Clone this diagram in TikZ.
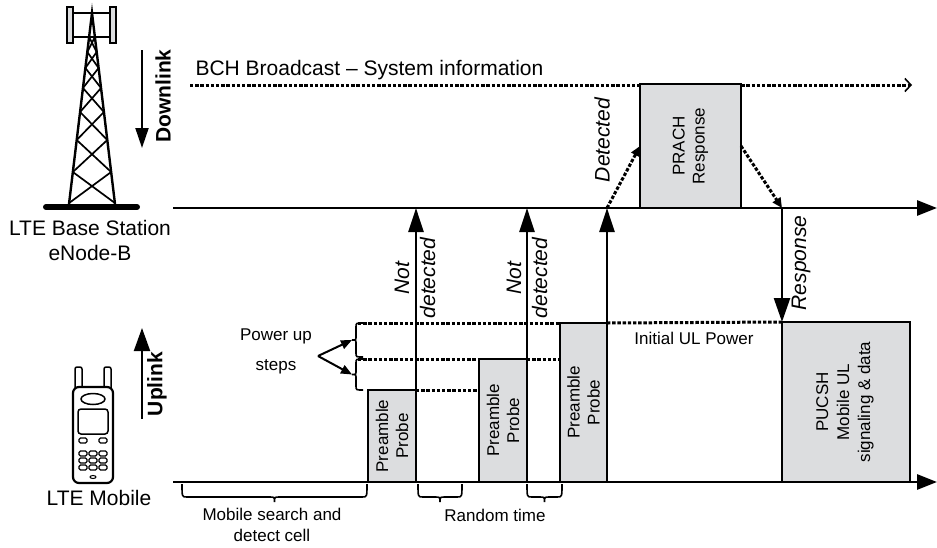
\documentclass[tikz,border=0pt]{standalone}
\usepackage{fontspec}
\setmainfont{Liberation Sans}
\usetikzlibrary{arrows.meta}
\definecolor{boxgray}{RGB}{220,221,223}

% downward curly brace under a time axis: \hbrace{x-left}{x-right}{y}
\newcommand\hbrace[3]{%
  \draw[bracestyle] (#1,#3) .. controls (#1,{#3+13}) .. ({#1+5},{#3+13})
    -- ({(#1+#2)/2-5},{#3+13}) .. controls ({(#1+#2)/2},{#3+13}) .. ({(#1+#2)/2},{#3+18})
    .. controls ({(#1+#2)/2},{#3+13}) .. ({(#1+#2)/2+5},{#3+13})
    -- ({#2-5},{#3+13}) .. controls (#2,{#3+13}) .. (#2,#3);}
% left-pointing curly brace: \vbrace{x}{y-top}{y-bottom}
\newcommand\vbrace[3]{%
  \draw[bracestyle] (#1,#2) .. controls ({#1-7},#2) .. ({#1-7},{#2+4})
    -- ({#1-7},{(#2+#3)/2-4}) .. controls ({#1-7},{(#2+#3)/2}) .. ({#1-11},{(#2+#3)/2})
    .. controls ({#1-7},{(#2+#3)/2}) .. ({#1-7},{(#2+#3)/2+4})
    -- ({#1-7},{#3-4}) .. controls ({#1-7},#3) .. (#1,#3);}

\begin{document}
\begin{tikzpicture}[x=1pt,y=-1pt,
  big/.style={font=\fontsize{21}{25}\selectfont},
  small/.style={font=\fontsize{17}{20}\selectfont},
  bold/.style={font=\fontsize{21}{25}\selectfont\bfseries},
  ital/.style={font=\fontsize{21}{26}\selectfont\itshape,rotate=90,align=center},
  axis/.style={line width=2.8pt,-{Triangle[length=20pt,width=15pt]}},
  sig/.style={line width=2.4pt,-{Triangle[length=24pt,width=15pt]}},
  dots/.style={line width=3pt,dash pattern=on 3.4pt off 1.8pt},
  dotarrow/.style={dots,-{Triangle[length=10pt,width=9pt]}},
  chan/.style={draw,line width=2.4pt,fill=boxgray,outer sep=0pt,inner sep=0pt,anchor=south west},
  chantext/.style={font=\fontsize{17}{20}\selectfont,rotate=90,align=center},
  bracestyle/.style={line width=1.6pt},
  thin/.style={line width=1.5pt},
]
\useasboundingbox (0,0) rectangle (937,547);

% ---------- base station tower ----------
\draw[thin,fill=boxgray] (67,7) rectangle (73,43);
\draw[thin,fill=boxgray] (110,7) rectangle (116,43);
\draw[thin] (73,13) -- (110,13) (73,37) -- (110,37);
\draw[line width=2.4pt] (69,204) -- (92,13) -- (115,204);
\foreach \a/\b in {37/52,52/68,68/88,88/112,112/140,140/172,172/203}{
  \draw[line width=1.7pt] ({92-23*(\a-13)/191},\a) -- ({92+23*(\b-13)/191},\b);
  \draw[line width=1.7pt] ({92+23*(\a-13)/191},\a) -- ({92-23*(\b-13)/191},\b);
}
\draw[line width=6pt,line cap=round] (46,207) -- (137,207);
\node[big,align=center] (bslabel) at (90,240) {LTE Base Station\\eNode-B};

% ---------- mobile handset ----------
\draw[thin,rounded corners=2pt] (75,388) -- (75,367) -- (82,367) -- (82,388);
\draw[thin,rounded corners=2pt] (104,388) -- (104,367) -- (111,367) -- (111,388);
\draw[line width=2.2pt,fill=white,rounded corners=6pt] (73,387) rectangle (113,483);
\draw[thin] (93,399) ellipse [x radius=12, y radius=5.5];
\draw[thin,rounded corners=3pt] (78,409) rectangle (108,434);
\draw[line width=1.3pt,rounded corners=1.5pt] (79,438) rectangle (87,443) (99,438) rectangle (107,443);
\foreach \r in {451,458,465}{
  \foreach \c in {79,89,99}{
    \draw[line width=1.3pt,rounded corners=1.5pt] (\c,\r) rectangle ({\c+8},{\r+5});
  }
}
\draw[line width=1pt] (93,477) ellipse [x radius=3, y radius=1.5];
\node[big] (mslabel) at (99,498) {LTE Mobile};

% ---------- link direction arrows ----------
\coordinate (dl0) at (142,50);  \coordinate (dl1) at (142,148);
\coordinate (ul0) at (142,419); \coordinate (ul1) at (142,328);
\draw[line width=2pt,-{Triangle[length=20pt,width=13pt]}] (dl0) -- (dl1);
\draw[line width=2pt,-{Triangle[length=23pt,width=16pt]}] (ul0) -- (ul1);
\node[bold,rotate=90] (dllabel) at (163,96) {Downlink};
\node[bold,rotate=90] (ullabel) at (157,384) {Uplink};

% ---------- broadcast channel ----------
\coordinate (bch0) at (190,85); \coordinate (bch1) at (912,85);
\draw[dots,-{Straight Barb[length=6pt,width=13pt,line width=1.6pt]}] (bch0) -- (bch1);
\node[big,anchor=base west] (bchlabel) at (192,75) {BCH Broadcast -- System information};

% ---------- time axes ----------
\coordinate (bs0) at (173,208); \coordinate (bs1) at (937,208);
\coordinate (ms0) at (173,482); \coordinate (ms1) at (937,482);

% power level guides
\coordinate (lv1) at (358,359); \coordinate (lv2) at (358,323);
\node[chan,minimum width=48pt,minimum height=92pt]  (p1) at (368,482) {};
\node[chan,minimum width=48pt,minimum height=123pt] (p2) at (479,482) {};
\node[chan,minimum width=47pt,minimum height=159pt] (p3) at (560,482) {};
\node[chan,minimum width=128pt,minimum height=160pt] (pucsh) at (782,482) {};
\node[chan,minimum width=101pt,minimum height=124pt] (prach) at (640,208) {};
\draw[dots] (p1.north east) -- (p1.north east -| p2.west);
\draw[dots] (lv1) -- (p2.north west);
\draw[dots] (p2.north east) -- (p3.north west |- p2.north east);
\draw[dots] (lv2) -- (p3.north west);
\draw[dots] (p3.north east) -- (pucsh.north west);
% redraw box outlines over the guides
\foreach \b in {p1,p2,p3,pucsh,prach}{
  \draw[line width=2.4pt] (\b.south west) rectangle (\b.north east);
}

\node[chantext] (p1t) at (p1.center) {Preamble\\Probe};
\node[chantext] (p2t) at (p2.center) {Preamble\\Probe};
\node[chantext] (p3t) at (p3.center) {Preamble\\Probe};
\node[chantext] (prt) at (prach.center) {PRACH\\Response};
\node[font=\fontsize{17}{21}\selectfont,rotate=90,align=center] (put) at (845,402) {PUCSH\\Mobile UL\\signaling \& data};

\draw[axis] (bs0) -- (bs1);
\draw[axis] (ms0) -- (ms1);

% ---------- preamble attempts ----------
\draw[sig] (p1.south east) -- (p1.south east |- bs0);
\draw[sig] (p2.south east) -- (p2.south east |- bs0);
\draw[sig] (p3.south east) -- (p3.south east |- bs0);
\node[ital] (nd1) at (415,278) {Not\\detected};
\node[ital] (nd2) at (527,278) {Not\\detected};

% detection and response
\coordinate (det) at (p3.south east |- bs0);
\coordinate (resp) at (pucsh.north west |- bs0);
\draw[dotarrow] (det) -- (prach.west);
\draw[dotarrow] (prach.east) -- (resp);
\node[ital] (detl) at (602,140) {Detected};
\draw[line width=2.4pt,-{Triangle[length=24pt,width=16pt]}] (resp) -- (pucsh.north west);
\node[ital] (respl) at (801,263) {Response};
\node[small] (iulp) at (694,338) {Initial UL Power};

% ---------- power steps ----------
\vbrace{363}{323}{357}
\vbrace{363}{359}{390}
\coordinate (pw) at (318,356);
\coordinate (st1) at (352,340); \coordinate (st2) at (352,374.5);
\draw[line width=2pt,-{Triangle[length=11pt,width=9pt]}] (pw) -- (st1);
\draw[line width=2pt,-{Triangle[length=11pt,width=9pt]}] (pw) -- (st2);
\node[small,align=center,font=\fontsize{17}{30}\selectfont] (pwl) at (276,351) {Power up\\steps};

% ---------- timing braces ----------
\hbrace{182}{367}{484}
\hbrace{418}{462}{484}
\hbrace{527}{562}{484}
\node[small,align=center,font=\fontsize{17}{21}\selectfont] (msl) at (272,525) {Mobile search and\\detect cell};
\node[small] (rtl) at (495,515) {Random time};
\end{tikzpicture}
\end{document}
